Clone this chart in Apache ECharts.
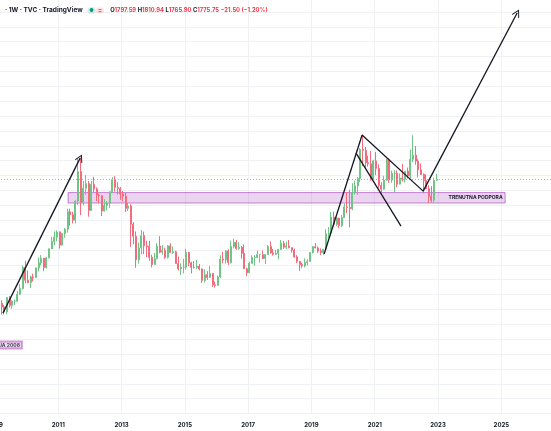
<!DOCTYPE html>
<html>
<head>
<meta charset="utf-8">
<script src="https://cdn.jsdelivr.net/npm/echarts@6/dist/echarts.min.js"></script>
<style>
html,body{margin:0;padding:0;background:#fff;}
#c{width:551px;height:431px;}
</style>
</head>
<body>
<div id="c"></div>
<script>
// Monthly gold (TVC) OHLC, 2009-01 .. 2022-12
var months = [
 '2009-01','2009-02','2009-03','2009-04','2009-05','2009-06','2009-07','2009-08','2009-09','2009-10','2009-11','2009-12',
 '2010-01','2010-02','2010-03','2010-04','2010-05','2010-06','2010-07','2010-08','2010-09','2010-10','2010-11','2010-12',
 '2011-01','2011-02','2011-03','2011-04','2011-05','2011-06','2011-07','2011-08','2011-09','2011-10','2011-11','2011-12',
 '2012-01','2012-02','2012-03','2012-04','2012-05','2012-06','2012-07','2012-08','2012-09','2012-10','2012-11','2012-12',
 '2013-01','2013-02','2013-03','2013-04','2013-05','2013-06','2013-07','2013-08','2013-09','2013-10','2013-11','2013-12',
 '2014-01','2014-02','2014-03','2014-04','2014-05','2014-06','2014-07','2014-08','2014-09','2014-10','2014-11','2014-12',
 '2015-01','2015-02','2015-03','2015-04','2015-05','2015-06','2015-07','2015-08','2015-09','2015-10','2015-11','2015-12',
 '2016-01','2016-02','2016-03','2016-04','2016-05','2016-06','2016-07','2016-08','2016-09','2016-10','2016-11','2016-12',
 '2017-01','2017-02','2017-03','2017-04','2017-05','2017-06','2017-07','2017-08','2017-09','2017-10','2017-11','2017-12',
 '2018-01','2018-02','2018-03','2018-04','2018-05','2018-06','2018-07','2018-08','2018-09','2018-10','2018-11','2018-12',
 '2019-01','2019-02','2019-03','2019-04','2019-05','2019-06','2019-07','2019-08','2019-09','2019-10','2019-11','2019-12',
 '2020-01','2020-02','2020-03','2020-04','2020-05','2020-06','2020-07','2020-08','2020-09','2020-10','2020-11','2020-12',
 '2021-01','2021-02','2021-03','2021-04','2021-05','2021-06','2021-07','2021-08','2021-09','2021-10','2021-11','2021-12',
 '2022-01','2022-02','2022-03','2022-04','2022-05','2022-06','2022-07','2022-08','2022-09','2022-10','2022-11','2022-12'
];
var opens = [
 882,927,942,916,883,979,927,955,955,1001,1040,1182,
 1096,1081,1118,1115,1179,1213,1244,1181,1247,1307,1357,1386,
 1421,1333,1410,1439,1556,1536,1500,1628,1826,1620,1714,1746,
 1565,1740,1710,1669,1664,1561,1599,1614,1691,1772,1720,1712,
 1675,1661,1579,1595,1472,1392,1234,1313,1396,1327,1323,1250,
 1202,1240,1326,1284,1296,1250,1327,1282,1287,1208,1172,1183,
 1184,1283,1213,1183,1182,1190,1172,1095,1133,1115,1142,1065,
 1061,1118,1238,1233,1293,1215,1322,1351,1309,1316,1277,1173,
 1146,1210,1249,1249,1268,1268,1242,1269,1322,1280,1271,1275,
 1303,1345,1318,1325,1315,1298,1253,1223,1201,1192,1215,1222,
 1282,1321,1313,1292,1283,1305,1409,1413,1520,1472,1513,1464,
 1517,1589,1585,1577,1686,1730,1781,1975,1968,1886,1879,1776,
 1898,1848,1734,1708,1769,1906,1770,1814,1814,1742,1783,1775,
 1829,1797,1909,1937,1897,1838,1807,1766,1711,1661,1634,1768
];
var highs = [
 937,1006,962,929,982,990,961,965,1024,1070,1195,1227,
 1162,1127,1140,1180,1249,1265,1245,1253,1308,1388,1424,1431,
 1424,1412,1447,1576,1577,1556,1633,1913,1921,1764,1803,1763,
 1764,1791,1720,1678,1668,1641,1628,1693,1788,1796,1755,1723,
 1695,1684,1617,1606,1487,1424,1348,1434,1423,1361,1361,1267,
 1280,1345,1392,1332,1315,1332,1345,1323,1294,1255,1209,1239,
 1307,1285,1220,1225,1232,1205,1175,1170,1157,1191,1142,1088,
 1127,1263,1287,1298,1304,1362,1375,1367,1352,1326,1337,1180,
 1220,1264,1264,1295,1270,1296,1270,1332,1357,1306,1299,1307,
 1366,1361,1356,1366,1317,1309,1265,1224,1214,1243,1237,1284,
 1326,1346,1324,1310,1306,1439,1453,1555,1557,1518,1516,1535,
 1611,1689,1704,1748,1765,1789,1984,2075,1992,1933,1966,1906,
 1959,1875,1755,1798,1913,1916,1833,1834,1834,1814,1877,1831,
 1853,1974,2070,1998,1910,1880,1814,1808,1735,1729,1786,1811
];
var lows = [
 802,889,865,865,868,912,905,930,948,1000,1033,1075,
 1075,1044,1088,1113,1155,1196,1157,1175,1241,1315,1331,1357,
 1309,1328,1381,1416,1462,1478,1478,1603,1534,1600,1671,1523,
 1563,1690,1627,1613,1527,1557,1565,1582,1686,1692,1673,1636,
 1626,1555,1562,1321,1338,1180,1208,1270,1272,1251,1226,1182,
 1202,1238,1277,1268,1240,1241,1281,1273,1207,1161,1131,1142,
 1167,1190,1142,1175,1170,1162,1077,1080,1098,1110,1052,1046,
 1061,1110,1209,1208,1199,1208,1311,1301,1302,1241,1172,1123,
 1146,1207,1194,1244,1214,1237,1205,1266,1275,1261,1264,1236,
 1302,1307,1303,1310,1282,1246,1211,1160,1180,1182,1196,1221,
 1276,1310,1280,1266,1267,1301,1382,1400,1459,1459,1445,1453,
 1517,1547,1451,1567,1671,1670,1757,1863,1848,1860,1764,1775,
 1802,1717,1677,1705,1766,1751,1751,1688,1721,1746,1759,1753,
 1780,1781,1890,1872,1787,1805,1681,1709,1615,1617,1616,1766
];
var closes = [
 927,942,916,883,979,927,955,955,1001,1040,1182,1096,
 1081,1118,1115,1179,1213,1244,1181,1247,1307,1357,1386,1421,
 1333,1410,1439,1556,1536,1500,1628,1826,1620,1714,1746,1565,
 1740,1710,1669,1664,1561,1599,1614,1691,1772,1720,1712,1675,
 1661,1579,1595,1472,1392,1234,1313,1396,1327,1323,1250,1202,
 1240,1326,1284,1296,1250,1327,1282,1287,1208,1172,1183,1184,
 1283,1213,1183,1182,1190,1172,1095,1133,1115,1142,1065,1061,
 1118,1238,1233,1293,1215,1322,1351,1309,1316,1277,1173,1146,
 1210,1249,1249,1268,1268,1242,1269,1322,1280,1271,1275,1303,
 1345,1318,1325,1315,1298,1253,1223,1201,1192,1215,1222,1282,
 1321,1313,1292,1283,1305,1409,1413,1520,1472,1513,1464,1517,
 1589,1585,1577,1686,1730,1781,1975,1968,1886,1879,1776,1898,
 1848,1734,1708,1769,1906,1770,1814,1814,1742,1783,1775,1829,
 1797,1909,1937,1897,1838,1807,1766,1711,1661,1634,1768,1776
];
var yearTicks = ['2009','2011','2013','2015','2017','2019','2021','2023','2025'];
var lastPrice = 1775.75;
var header = {
  symbolText: '\u00B7 1W \u00B7 TVC \u00B7 TradingView',
  o: '1797.59', h: '1810.94', l: '1765.90', c: '1775.75', chg: '\u221221.50 (\u22121.20%)'
};
// Drawings (year, price)
var supportBand = { from: [2011.31, 1685], to: [2025.12, 1615], label: 'TRENUTNA PODPORA' };
var noteLabel = { at: [2009.85, 660], text: 'IJA 2008' };
var arrowLines = [
  { from: [2009.25, 875], to: [2011.69, 1917], arrow: true },
  { from: [2019.40, 1272], to: [2020.60, 2072], arrow: false },
  { from: [2020.60, 2072], to: [2022.53, 1695], arrow: false },
  { from: [2022.53, 1695], to: [2025.50, 2892], arrow: true },
  { from: [2020.41, 1951], to: [2021.83, 1460], arrow: false }
];

function toYear(s) {
  var p = s.split('-');
  return +p[0] + (+p[1] - 0.5) / 12;
}
var candleData = months.map(function (m, i) {
  return [toYear(m), opens[i], closes[i], lows[i], highs[i]];
});

var chevron = 'path://M0,0 L6,9 L5,10 L0,2.4 L-5,10 L-6,9 Z';
var mlData = arrowLines.map(function (a) {
  return [
    { coord: a.from, symbol: 'none' },
    { coord: a.to, symbol: a.arrow ? chevron : 'none', symbolSize: [8, 8] }
  ];
});

var chart = echarts.init(document.getElementById('c'), null, { renderer: 'canvas' });
var font = 'Inter, "Noto Sans", "DejaVu Sans", sans-serif';
chart.setOption({
  animation: false,
  backgroundColor: '#ffffff',
  textStyle: { fontFamily: font },
  title: {
    left: 0, top: 2,
    text: '{s|' + header.symbolText + '}   {g|\u25CF}{p|=}    {k|O}{v|' + header.o + '} {k|H}{v|' + header.h + '} {k|L}{v|' + header.l + '} {k|C}{v|' + header.c + '} {v|' + header.chg + '}',
    textStyle: {
      fontSize: 6.5,
      rich: {
        s: { fontSize: 6.5, color: '#131722', fontFamily: font },
        g: { fontSize: 5, color: '#089981', backgroundColor: 'rgba(8,153,129,0.15)', borderRadius: 4, padding: [1, 2, 1, 2] },
        p: { fontSize: 6, color: '#f23645', backgroundColor: 'rgba(242,54,69,0.15)', borderRadius: 4, padding: [0, 2, 0, 2], fontWeight: 'bold' },
        k: { fontSize: 5.8, color: '#131722', fontFamily: font },
        v: { fontSize: 5.8, color: '#f23645', fontFamily: font }
      }
    }
  },
  grid: { left: -5, right: 0, top: -3, bottom: 17.5, containLabel: false, outerBoundsMode: 'none' },
  xAxis: {
    type: 'value',
    min: 2009, max: 2026.57, interval: 2,
    axisLine: { show: false }, axisTick: { show: false },
    axisLabel: {
      color: '#131722', fontSize: 6, fontWeight: 'bold', margin: 9,
      showMaxLabel: false,
      formatter: function (v) { var s = String(Math.round(v)); return yearTicks.indexOf(s) >= 0 ? s : ''; }
    },
    splitLine: { show: true, lineStyle: { color: '#f0f1f4', width: 1 } }
  },
  yAxis: {
    type: 'value', min: 200, max: 3000, interval: 100,
    axisLine: { show: false }, axisTick: { show: false }, axisLabel: { show: false },
    splitLine: { show: true, lineStyle: { color: '#f0f1f4', width: 1 } }
  },
  series: [
    {
      type: 'candlestick',
      data: candleData,
      encode: { x: 0, y: [1, 2, 3, 4] },
      barWidth: 1.5,
      itemStyle: {
        color: '#6fc486', color0: '#f36b7d',
        borderColor: '#6fc486', borderColor0: '#f36b7d', borderWidth: 1
      },
      markLine: {
        silent: true, symbol: ['none', 'none'],
        lineStyle: { color: '#f5939c', type: [1, 2], width: 1 },
        label: { show: false },
        data: [{ yAxis: lastPrice }]
      },
      markArea: {
        silent: true,
        itemStyle: { color: 'rgba(156,39,176,0.2)', borderColor: 'rgba(156,39,176,0.55)', borderWidth: 1 },
        label: {
          show: true, position: 'insideRight', distance: 3,
          color: '#131722', fontSize: 5, fontWeight: 'bold'
        },
        data: [[
          { coord: supportBand.from, name: supportBand.label },
          { coord: supportBand.to }
        ]]
      }
    },
    {
      type: 'line',
      data: [],
      silent: true,
      markLine: {
        silent: true, animation: false,
        symbol: ['none', 'none'],
        lineStyle: { color: '#131722', width: 1.3, type: 'solid' },
        itemStyle: { color: '#131722' },
        label: { show: false },
        emphasis: { disabled: true },
        data: mlData
      }
    },
    {
      type: 'scatter',
      symbolSize: 0,
      itemStyle: { color: 'transparent' },
      silent: true,
      data: [noteLabel.at],
      label: {
        show: true, position: 'left', distance: 0,
        formatter: noteLabel.text,
        color: '#131722', fontSize: 5, fontWeight: 'bold',
        backgroundColor: 'rgba(156,39,176,0.2)', borderColor: 'rgba(156,39,176,0.55)', borderWidth: 1,
        padding: [1, 2, 1, 8]
      }
    }
  ]
});
</script>
</body>
</html>
